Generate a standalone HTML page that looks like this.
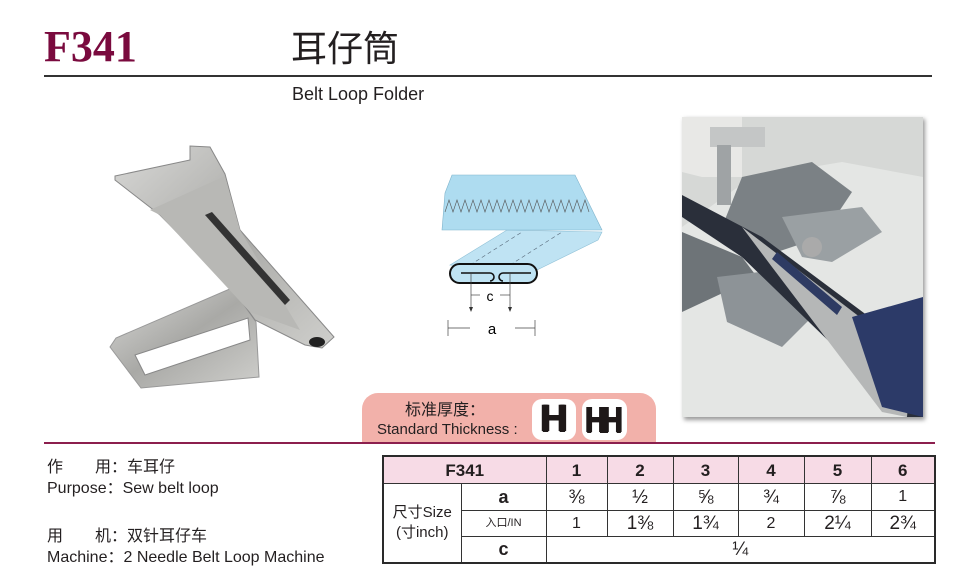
<!DOCTYPE html>
<html><head><meta charset="utf-8"><style>
body{margin:0;width:980px;height:576px;background:#fff;position:relative;overflow:hidden;font-family:"Liberation Sans","Noto Sans CJK SC",sans-serif;color:#231f20}
.a{position:absolute;white-space:nowrap}
table{position:absolute;left:382px;top:455px;border-collapse:collapse;table-layout:fixed;border:2px solid #2a2a2a}
td{border:1px solid #333;text-align:center;padding:0;font-size:16px;line-height:1}
tr.h td{background:#f7dbe6;font-weight:bold;font-size:17px;height:26px}
.f{font-size:19px}
.hb{background:#fff;border-radius:10px;text-align:center;font-family:'Liberation Sans',sans-serif;font-weight:bold;color:#1e1818;text-shadow:1px 0 0 #1e1818,-1px 0 0 #1e1818,0 1px 0 #1e1818}
</style></head><body>
<div class="a" style="left:44px;top:22px;font-family:'Liberation Serif',serif;font-weight:bold;font-size:44px;color:#7a0a3e;line-height:50px">F341</div>
<div class="a" style="left:291px;top:24px;font-size:36px;line-height:44px;font-family:'Noto Sans CJK SC',sans-serif">耳仔筒</div>
<div class="a" style="left:44px;top:75px;width:888px;height:2px;background:#333"></div>
<div class="a" style="left:292px;top:84px;font-size:18px;line-height:20px">Belt Loop Folder</div>

<!-- product -->
<svg class="a" style="left:100px;top:135px" width="250" height="260" viewBox="100 135 250 260">
<defs><linearGradient id="m" x1="0" y1="0" x2="1" y2="1"><stop offset="0" stop-color="#d8d8d6"/><stop offset=".5" stop-color="#a9a9a6"/><stop offset="1" stop-color="#cfcfcc"/></linearGradient></defs>
<polygon points="232,288 256,322 259,377 141,388 110,347 116,338" fill="url(#m)" stroke="#999" stroke-width="1"/>
<polygon points="135,355 248,318 250,340 145,375" fill="#fff" stroke="#888"/>
<polygon points="115,176 190,160 190,146 210,147 225,174 240,230 334,337 322,348 305,345 255,320 232,288 160,215 115,180" fill="url(#m)" stroke="#888"/>
<polygon points="150,210 225,176 240,230 300,330 250,312 160,215" fill="#b8b8b5"/>
<polygon points="205,215 212,212 290,300 285,305" fill="#333"/>
<ellipse cx="317" cy="342" rx="8" ry="5" fill="#222"/>
</svg>

<!-- diagram (absolute coords) -->
<svg class="a" style="left:0;top:0" width="980" height="576" viewBox="0 0 980 576">
<polygon points="507,230 602,232 598,240 533,272 450,265" fill="#bfe3f3" stroke="#8fc0d6" stroke-width=".6"/>
<polygon points="452,175 575,175 602,230 442,230 445,193" fill="#aedcf0" stroke="#7fb4cc" stroke-width=".6"/>
<polyline points="445,212 449,200 453,212 457,200 461,212 465,200 469,212 473,200 477,212 481,200 485,212 489,200 493,212 497,200 501,212 505,200 509,212 513,200 517,212 521,200 525,212 529,200 533,212 537,200 541,212 545,200 549,212 553,200 557,212 561,200 565,212 569,200 573,212 577,200 581,212 585,200 589,212" fill="none" stroke="#555" stroke-width=".6"/>
<line x1="470" y1="265" x2="522" y2="232" stroke="#567" stroke-width=".6" stroke-dasharray="4 3"/>
<line x1="510" y1="265" x2="562" y2="232" stroke="#567" stroke-width=".6" stroke-dasharray="4 3"/>
<rect x="450" y="264" width="87" height="19" rx="9.5" fill="#bfe3f3" stroke="#111" stroke-width="2"/>
<path d="M461,273 H490 a4,4 0 0 1 0,8 M503,273 H531 M503,273 a4,4 0 0 0 0,8" fill="none" stroke="#111" stroke-width="1.6"/>
<line x1="471" y1="273" x2="471" y2="310" stroke="#444" stroke-width=".7"/><polygon points="469,307 473,307 471,312" fill="#333"/>
<line x1="510" y1="273" x2="510" y2="310" stroke="#444" stroke-width=".7"/><polygon points="508,307 512,307 510,312" fill="#333"/>
<line x1="471" y1="295" x2="480" y2="295" stroke="#444" stroke-width=".7"/><line x1="500" y1="295" x2="510" y2="295" stroke="#444" stroke-width=".7"/>
<text x="490" y="301" font-size="14" text-anchor="middle" font-family="Liberation Sans">c</text>
<line x1="448" y1="320" x2="448" y2="336" stroke="#444" stroke-width=".7"/><line x1="535" y1="320" x2="535" y2="336" stroke="#444" stroke-width=".7"/>
<line x1="448" y1="328" x2="470" y2="328" stroke="#444" stroke-width=".7"/><line x1="515" y1="328" x2="535" y2="328" stroke="#444" stroke-width=".7"/>
<text x="492" y="334" font-size="15" text-anchor="middle" font-family="Liberation Sans">a</text>
</svg>

<!-- photo -->
<div class="a" style="left:684px;top:119px;width:241px;height:301px;background:#999;filter:blur(2px)"></div>
<svg class="a" style="left:682px;top:117px" width="241" height="300" viewBox="0 0 241 300">
<rect width="241" height="300" fill="#d6d8d6"/>
<polygon points="0,110 70,60 160,45 241,60 241,300 0,300" fill="#e4e6e4"/>
<polygon points="60,60 130,45 170,75 140,120 80,140 40,110" fill="#7b8185"/>
<polygon points="0,115 60,140 75,160 0,195" fill="#6e7478"/>
<polygon points="100,100 180,90 200,115 150,145 120,140" fill="#9aa0a3"/>
<polygon points="35,160 120,150 130,200 100,230 45,205" fill="#8d9397"/>
<polygon points="0,0 60,0 60,60 20,60 0,55" fill="#e8e8e6"/>
<rect x="28" y="10" width="55" height="20" fill="#c4c6c6"/>
<rect x="35" y="28" width="14" height="60" fill="#9fa3a5"/>
<polygon points="0,78 80,120 241,240 241,300 225,300 60,140 0,100" fill="#2a2f3a"/>
<polygon points="60,110 230,240 225,300 200,295 90,150" fill="#b5b7b7"/>
<polygon points="95,135 160,190 155,198 90,142" fill="#2e3b63"/>
<polygon points="170,200 241,180 241,300 200,290" fill="#2c3a68"/>
<circle cx="130" cy="130" r="10" fill="#aaa"/>
</svg>

<!-- thickness badge -->
<div class="a" style="left:362px;top:393px;width:294px;height:50px;background:#f2b1aa;border-radius:16px 16px 0 0"></div>
<div class="a" style="left:405px;top:398px;font-size:16px;line-height:20px;font-family:'Noto Sans CJK SC',sans-serif">标准厚度：</div>
<div class="a" style="left:377px;top:421px;font-size:15px;line-height:18px">Standard Thickness :</div>
<div class="a hb" style="left:532px;top:399px;width:44px;height:41px;font-size:38px;line-height:41px">H</div>
<div class="a hb" style="left:582px;top:399px;width:45px;height:41px;font-size:36px;line-height:41px;letter-spacing:-5px"><span style="display:inline-block;transform:scaleX(.8);margin-left:-6px">HH</span></div>
<div class="a" style="left:44px;top:442px;width:891px;height:2px;background:#8c1f4e"></div>

<div class="a" style="left:47px;top:457px;font-size:16px;line-height:21px">作　　用：车耳仔<br>Purpose：Sew belt loop</div>
<div class="a" style="left:47px;top:526px;font-size:16px;line-height:21px">用　　机：双针耳仔车<br>Machine：2 Needle Belt Loop Machine</div>

<table>
<colgroup><col style="width:78px"><col style="width:85px"><col style="width:61px"><col style="width:66px"><col style="width:65px"><col style="width:66px"><col style="width:67px"><col style="width:64px"></colgroup>
<tr class="h"><td colspan="2">F341</td><td>1</td><td>2</td><td>3</td><td>4</td><td>5</td><td>6</td></tr>
<tr style="height:27px"><td rowspan="3" style="font-size:15px;line-height:20px">尺寸Size<br>(寸inch)</td><td style="font-weight:bold;font-size:18px">a</td><td class="f">⅜</td><td class="f">½</td><td class="f">⅝</td><td class="f">¾</td><td class="f">⅞</td><td>1</td></tr>
<tr style="height:26px"><td style="font-size:11px">入口/IN</td><td>1</td><td class="f">1⅜</td><td class="f">1¾</td><td>2</td><td class="f">2¼</td><td class="f">2¾</td></tr>
<tr style="height:26px"><td style="font-weight:bold;font-size:18px">c</td><td colspan="6" class="f">¼</td></tr>
</table>
</body></html>
